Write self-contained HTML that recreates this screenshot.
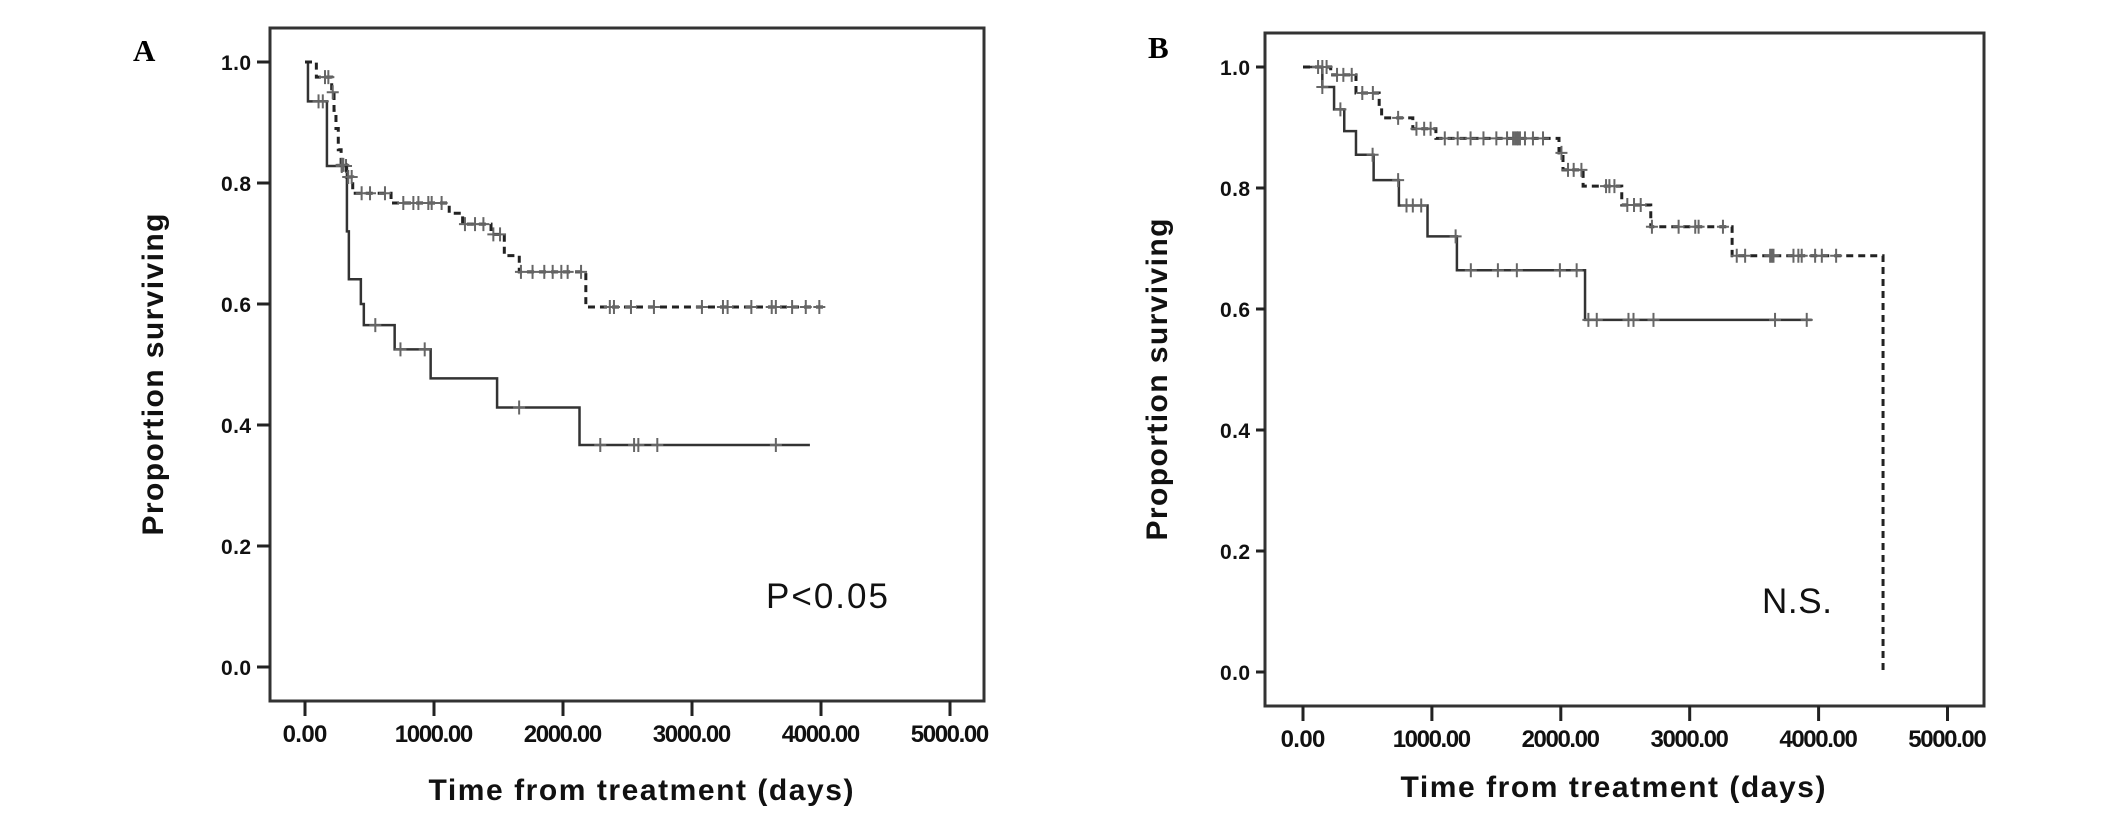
<!DOCTYPE html>
<html><head><meta charset="utf-8"><style>
html,body{margin:0;padding:0;background:#fff;}
svg{display:block;}
.tick{font-family:"Liberation Sans Narrow","Liberation Sans",sans-serif;font-weight:bold;font-size:21px;fill:#111;}
.xtick{font-size:24px;}
.title{font-family:"Liberation Sans",sans-serif;font-weight:bold;font-size:30px;fill:#111;}
</style></head><body>
<svg id="chart" width="2126" height="820" viewBox="0 0 2126 820" xmlns="http://www.w3.org/2000/svg">
<text x="133" y="61" font-family="Liberation Serif,serif" font-weight="bold" font-size="31">A</text>
<text x="1148" y="58" font-family="Liberation Serif,serif" font-weight="bold" font-size="31">B</text>
<text x="766" y="608" font-family="Liberation Sans,sans-serif" font-size="35" textLength="122" fill="#111">P&lt;0.05</text>
<text x="1762" y="613" font-family="Liberation Sans,sans-serif" font-size="35" textLength="70" fill="#111">N.S.</text>
</svg>
<script>
// Shared axis ticks
const yTicks = [0.0, 0.2, 0.4, 0.6, 0.8, 1.0];
const yTickLabels = ["0.0", "0.2", "0.4", "0.6", "0.8", "1.0"];
const xTicks = [0, 1000, 2000, 3000, 4000, 5000];
const xTickLabels = ["0.00", "1000.00", "2000.00", "3000.00", "4000.00", "5000.00"];

// Panel A – solid group
const aSolidTimes = [0, 23, 170, 325, 340, 433, 456, 695, 974, 1489, 2128];
const aSolidValues = [1.0, 0.935, 0.828, 0.72, 0.641, 0.60, 0.565, 0.525, 0.477, 0.429, 0.367];
const aSolidCensors = [105, 138, 285, 318, 545, 740, 928, 1660, 2289, 2551, 2584, 2731, 3650];
const aSolidEnd = 3914;
// Panel A – dashed group
const aDashTimes = [0, 88, 207, 225, 240, 258, 280, 320, 370, 667, 1118, 1222, 1442, 1545, 1661, 2177];
const aDashValues = [1.0, 0.975, 0.95, 0.92, 0.89, 0.855, 0.83, 0.81, 0.783, 0.767, 0.75, 0.732, 0.715, 0.68, 0.653, 0.595];
const aDashCensors = [155, 181, 215, 284, 297, 335, 362, 439, 504, 620, 762, 840, 879, 956, 982, 1059, 1240, 1318, 1383, 1460, 1512, 1674, 1764, 1855, 1920, 1987, 2036, 2140, 2363, 2395, 2527, 2705, 3077, 3240, 3276, 3460, 3618, 3650, 3776, 3882, 3987];
const aDashEnd = 4040;

// Panel B – solid group
const bSolidTimes = [0, 150, 241, 320, 411, 548, 744, 966, 1194, 2188];
const bSolidValues = [1.0, 0.967, 0.93, 0.894, 0.855, 0.813, 0.771, 0.72, 0.664, 0.582];
const bSolidCensors = [150, 290, 540, 738, 803, 852, 917, 1184, 1302, 1512, 1659, 1993, 2123, 2214, 2279, 2525, 2564, 2719, 3662, 3908];
const bSolidEnd = 3947;
// Panel B – dashed group
const bDashTimes = [0, 215, 411, 591, 610, 852, 1031, 1986, 2017, 2173, 2473, 2698, 3329, 4500];
const bDashValues = [1.0, 0.987, 0.957, 0.935, 0.916, 0.898, 0.882, 0.858, 0.83, 0.803, 0.772, 0.736, 0.688, 0.0];
const bDashCensors = [117, 150, 183, 264, 313, 378, 460, 542, 738, 880, 940, 990, 1100, 1200, 1300, 1400, 1500, 1583, 1630, 1645, 1660, 1668, 1683, 1722, 1784, 1862, 2005, 2056, 2100, 2160, 2351, 2377, 2416, 2516, 2568, 2620, 2707, 2914, 3043, 3069, 3258, 3365, 3430, 3624, 3637, 3650, 3805, 3843, 3869, 3973, 4025, 4136];
const bDashEnd = 4500;

const NS = "http://www.w3.org/2000/svg";
const svg = document.getElementById("chart");
function mk(tag, attrs) { const e = document.createElementNS(NS, tag); for (const k in attrs) e.setAttribute(k, attrs[k]); return e; }

const panels = [
  { id: "a", box: [270, 28, 984, 701], x0: 305, xk: 0.129, y0: 667, yk: 605, ylabX: 163, yEnd: 251, titleY: 800, titleX: 641,
    series: [[aSolidTimes, aSolidValues, aSolidCensors, aSolidEnd, false], [aDashTimes, aDashValues, aDashCensors, aDashEnd, true]] },
  { id: "b", box: [1265, 33, 1984, 706], x0: 1303, xk: 0.1289, y0: 672, yk: 605, ylabX: 1167, yEnd: 1250, titleY: 797, titleX: 1613,
    series: [[bSolidTimes, bSolidValues, bSolidCensors, bSolidEnd, false], [bDashTimes, bDashValues, bDashCensors, bDashEnd, true]] }
];

panels.forEach(p => {
  const xs = d => p.x0 + d * p.xk;
  const ys = v => p.y0 - v * p.yk;
  const g = mk("g", {});
  
  
  svg.appendChild(g);
  const [l, t, r, b] = p.box;
  const frame = mk("rect", { x: l, y: t, width: r - l, height: b - t, fill: "none", stroke: "#333", "stroke-width": 3 });
  
  
  g.appendChild(frame);
  yTicks.forEach((v, i) => {
    const y = ys(v);
    const tk = mk("line", { x1: p.yEnd + 6, x2: l, y1: y, y2: y, stroke: "#222", "stroke-width": 3 });
    
    
    g.appendChild(tk);
    const tx = mk("text", { x: p.yEnd, y: y + 8, "text-anchor": "end", class: "tick", textLength: 30 });
    
    
    tx.textContent = yTickLabels[i];
    g.appendChild(tx);
  });
  xTicks.forEach((d, i) => {
    const x = xs(d);
    const tk = mk("line", { x1: x, x2: x, y1: b, y2: b + 15, stroke: "#222", "stroke-width": 3 });
    
    
    g.appendChild(tk);
    const tx = mk("text", { x: x, y: b + 41, "text-anchor": "middle", class: "tick xtick", textLength: xTickLabels[i].length * 11.2 });
    
    
    tx.textContent = xTickLabels[i];
    g.appendChild(tx);
  });
  const yt = mk("text", { x: 0, y: 0, class: "title", "text-anchor": "middle", textLength: 322, transform: `translate(${p.ylabX},${(t + b) / 2 + 10}) rotate(-90)` });
  
  
  yt.textContent = "Proportion surviving";
  g.appendChild(yt);
  const xt = mk("text", { x: p.titleX, y: p.titleY, class: "title", "text-anchor": "middle", textLength: 425 });
  
  
  xt.textContent = "Time from treatment (days)";
  g.appendChild(xt);

  p.series.forEach(([times, vals, cens, end, dashed]) => {
    let d = `M${xs(times[0])},${ys(vals[0])}`;
    for (let i = 1; i < times.length; i++) {
      d += ` H${xs(times[i])} V${ys(vals[i])}`;
    }
    if (end > times[times.length - 1]) d += ` H${xs(end)}`;
    const path = mk("path", { d: d, fill: "none", stroke: dashed ? "#222" : "#333", "stroke-width": dashed ? 3 : 2.5, "stroke-dasharray": dashed ? "7,5" : "none" });
    
    
    g.appendChild(path);
    cens.forEach(c => {
      let v = vals[0];
      for (let i = 0; i < times.length; i++) if (times[i] <= c) v = vals[i];
      const cx = xs(c), cy = ys(v);
      const m = mk("path", { d: `M${cx},${cy - 7} V${cy + 7} M${cx - 6},${cy} H${cx + 6}`, stroke: "#666", "stroke-width": 2, fill: "none" });
      
      
      g.appendChild(m);
    });
  });
});
</script>
</body></html>
